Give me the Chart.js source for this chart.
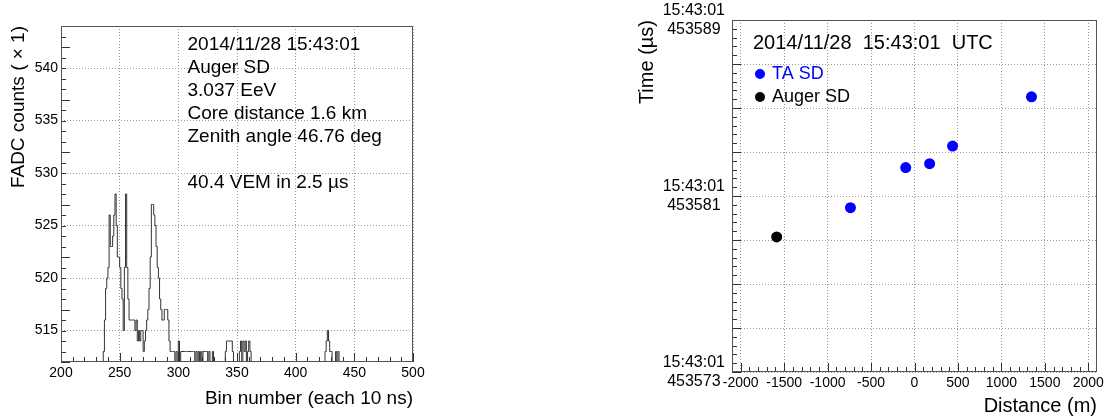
<!DOCTYPE html>
<html>
<head>
<meta charset="utf-8">
<script src="https://cdn.jsdelivr.net/npm/chart.js@4/dist/chart.umd.min.js"></script>
<style>
  html, body { margin: 0; padding: 0; background: #fff; }
  #wrap { position: relative; width: 1106px; height: 418px; overflow: hidden; }
  #fadc { position: absolute; left: 0; top: 0; }
  #timing { position: absolute; left: 620px; top: 0; }
</style>
</head>
<body>
<div id="wrap">
  <canvas id="fadc" width="430" height="418"></canvas>
  <canvas id="timing" width="486" height="418"></canvas>
</div>
<script>
// ---- FADC trace (left panel) ----
const fadcFirstBin = 200;
const fadcCounts = [
  512,512,512,512,512,512,512,512,512,512, // 200
  512,512,512,512,512,512,512,512,512,512, // 210
  512,512,512,512,512,512,512,512,512,512, // 220
  512,512,512,512,512,512,513,516,519,520, // 230
  521,526,523,523,524,526,528,525,522,522, // 240
  521,519,518,515,521,528,521,518,516,516, // 250
  516,516,516,515,516,514,515,514,515,515, // 260
  513,514,515,516,517,519,522,527,527,526, // 270
  525,523,521,520,518,517,516,516,517,517, // 280
  517,516,514,513,513,513,513,512,513,512, // 290
  514,512,513,513,513,513,513,513,513,513, // 300
  513,513,513,513,512,513,512,513,512,513, // 310
  512,513,513,513,513,512,513,512,512,513, // 320
  512,512,512,512,512,512,512,512,512,512, // 330
  513,514,514,514,514,514,513,512,512,512, // 340
  512,512,513,514,512,514,513,514,512,513, // 350
  514,513,512,512,512,512,512,512,512,512, // 360
  512,512,512,512,512,512,512,512,512,512, // 370
  512,512,512,512,512,512,512,512,512,512, // 380
  512,512,512,512,512,512,512,512,512,512, // 390
  512,512,512,512,512,512,512,512,512,512, // 400
  512,512,512,512,512,512,512,512,512,512, // 410
  512,512,512,512,512,513,514,515,514,513, // 420
  513,512,512,512,513,512,513,512,512,512, // 430
  512,512,512,512,512,512,512,512,512,512, // 440
  512,512,512,512,512,512,512,512,512,512, // 450
  512,512,512,512,512,512,512,512,512,512, // 460
  512,512,512,512,512,512,512,512,512,512, // 470
  512,512,512,512,512,512,512,512,512,512, // 480
  512,512,512,512,512,512,512,512,512,512, // 490
  512                                      // 500
];
const fadcInfoLines = [
  '2014/11/28 15:43:01',
  'Auger SD',
  '3.037 EeV',
  'Core distance 1.6 km',
  'Zenith angle 46.76 deg',
  '',
  '40.4 VEM in 2.5 \u00b5s'
];

// ---- Timing vs distance (right panel) ----
const taDistance = [-737, -101, 174, 438, 1346];
const taTime     = [453580.47, 453582.29, 453582.47, 453583.27, 453585.51];
const augerDistance = [-1586];
const augerTime     = [453579.14];
const distanceTicks = [-2000, -1500, -1000, -500, 0, 500, 1000, 1500, 2000];
const timeLabelTicks = [453573, 453581, 453589];
const timingTitle = '2014/11/28  15:43:01  UTC';

Chart.defaults.font.family = "'Liberation Sans', Arial, sans-serif";
Chart.defaults.color = '#000';
Chart.defaults.animation = false;

// fixed axis box, no extra label padding (keeps the frame where ROOT put it)
const fixBox = size => s => {
  if (s.isHorizontal()) s.height = size; else s.width = size;
  s.paddingTop = s.paddingBottom = s.paddingLeft = s.paddingRight = 0;
};

// ---- frame + inward ticks, ROOT style ----
const frameTicks = {
  id: 'frameTicks',
  afterDatasetsDraw(chart, args, o) {
    const { ctx, chartArea: a, scales: { x, y } } = chart;
    const isMajor = (v, step) => Math.abs(v / step - Math.round(v / step)) < 1e-6;
    ctx.save();
    ctx.strokeStyle = '#333';
    ctx.lineWidth = 1;
    ctx.beginPath();
    for (let k = 0; ; k++) {
      const v = o.xFrom + k * o.xMinor;
      if (v > o.xTo + 1e-9) break;
      const px = Math.round(x.getPixelForValue(v)) + 0.5;
      const len = isMajor(v, o.xMajor) ? 9 : 5;
      ctx.moveTo(px, a.bottom);
      ctx.lineTo(px, a.bottom - len);
    }
    for (let k = 0; ; k++) {
      const v = o.yFrom + k * o.yMinor;
      if (v > o.yTo + 1e-9) break;
      const py = Math.round(y.getPixelForValue(v)) + 0.5;
      const len = isMajor(v - o.yFrom, o.yMajor) ? 9 : 5;
      ctx.moveTo(a.left, py);
      ctx.lineTo(a.left + len, py);
    }
    ctx.stroke();
    ctx.strokeStyle = '#555';
    ctx.strokeRect(Math.round(a.left) + 0.5, Math.round(a.top) + 0.5,
                   Math.round(a.width) - 1, Math.round(a.height) - 1);
    ctx.restore();
  }
};

// ---- text box inside the FADC frame ----
const fadcInfo = {
  id: 'fadcInfo',
  afterDraw(chart) {
    const { ctx } = chart;
    ctx.save();
    ctx.fillStyle = '#000';
    ctx.font = "19px 'Liberation Sans', Arial, sans-serif";
    ctx.textBaseline = 'middle';
    fadcInfoLines.forEach((t, i) => ctx.fillText(t, 187.5, 45 + i * 23));
    ctx.restore();
  }
};

// ---- title + legend inside the timing frame ----
const timingInfo = {
  id: 'timingInfo',
  afterDraw(chart) {
    const { ctx } = chart;
    ctx.save();
    ctx.textBaseline = 'middle';
    ctx.fillStyle = '#000';
    ctx.font = "20px 'Liberation Sans', Arial, sans-serif";
    ctx.fillText(timingTitle, 133, 43);
    ctx.font = "18px 'Liberation Sans', Arial, sans-serif";
    chart.data.datasets.forEach((ds, i) => {
      const cy = 74 + i * 23;
      ctx.fillStyle = ds.backgroundColor;
      ctx.beginPath();
      ctx.arc(140, cy, 5, 0, Math.PI * 2);
      ctx.fill();
      ctx.fillText(ds.label, 152, cy);
    });
    ctx.restore();
  }
};

const gridStyle = { color: '#9a9a9a', lineWidth: 1, drawTicks: false };
const borderStyle = { display: false, dash: [1, 2] };

new Chart(document.getElementById('fadc'), {
  type: 'line',
  data: {
    datasets: [{
      label: 'FADC',
      data: fadcCounts.map((c, i) => ({ x: fadcFirstBin + i, y: c })),
      borderColor: '#333333',
      borderWidth: 1,
      pointRadius: 0,
      stepped: 'before',
      fill: false
    }]
  },
  options: {
    responsive: false,
    layout: { padding: { top: 26, right: 17, left: 0, bottom: 0 } },
    plugins: {
      legend: { display: false },
      tooltip: { enabled: false },
      frameTicks: { xFrom: 200, xTo: 500, xMinor: 10, xMajor: 50, yFrom: 512, yTo: 544, yMinor: 1, yMajor: 5 }
    },
    scales: {
      x: {
        type: 'linear', min: 200, max: 500,
        afterFit: fixBox(56),
        grid: gridStyle, border: borderStyle,
        ticks: { stepSize: 50, padding: 3, autoSkip: false, maxRotation: 0, font: { size: 14 }, callback: v => String(v) },
        title: { display: true, text: 'Bin number (each 10 ns)', align: 'end', font: { size: 19 }, padding: { bottom: 8, top: 0 } }
      },
      y: {
        type: 'linear', min: 512, max: 544,
        afterFit: fixBox(61),
        grid: gridStyle, border: borderStyle,
        ticks: { stepSize: 5, includeBounds: false, padding: 3, autoSkip: false, font: { size: 14 }, callback: v => String(v) },
        title: { display: true, text: 'FADC counts ( \u00d7 1)', align: 'end', font: { size: 19 }, padding: { top: 7, bottom: 0 } }
      }
    }
  },
  plugins: [frameTicks, fadcInfo]
});

new Chart(document.getElementById('timing'), {
  type: 'scatter',
  data: {
    datasets: [
      {
        label: 'TA SD',
        data: taDistance.map((d, i) => ({ x: d, y: taTime[i] })),
        backgroundColor: '#0000ff', borderColor: '#0000ff',
        pointRadius: 5.5, pointBorderWidth: 0
      },
      {
        label: 'Auger SD',
        data: augerDistance.map((d, i) => ({ x: d, y: augerTime[i] })),
        backgroundColor: '#000000', borderColor: '#000000',
        pointRadius: 5.5, pointBorderWidth: 0
      }
    ]
  },
  options: {
    responsive: false,
    layout: { padding: { top: 20, right: 9, left: 0, bottom: 0 } },
    plugins: {
      legend: { display: false },
      tooltip: { enabled: false },
      frameTicks: { xFrom: -2000, xTo: 2000, xMinor: 100, xMajor: 500, yFrom: 453573, yTo: 453589, yMinor: 0.4, yMajor: 2 }
    },
    scales: {
      x: {
        type: 'linear', min: -2100, max: 2100,
        afterBuildTicks: s => { s.ticks = distanceTicks.map(v => ({ value: v })); },
        afterFit: fixBox(46),
        grid: gridStyle, border: borderStyle,
        ticks: { padding: 3, autoSkip: false, maxRotation: 0, font: { size: 14 }, callback: v => String(v) },
        title: { display: true, text: 'Distance (m)', align: 'end', font: { size: 20 }, padding: { bottom: 0, top: 0 } }
      },
      y: {
        type: 'linear', min: 453573, max: 453589,
        afterFit: fixBox(112),
        grid: gridStyle, border: borderStyle,
        ticks: {
          stepSize: 2, padding: 7, autoSkip: false, crossAlign: 'center', font: { size: 16 },
          callback: v => timeLabelTicks.includes(v) ? ['15:43:01', String(v)] : ''
        },
        title: { display: true, text: 'Time (\u00b5s)', align: 'end', font: { size: 20 }, padding: { top: 15, bottom: 0 } }
      }
    }
  },
  plugins: [frameTicks, timingInfo]
});
</script>
</body>
</html>
